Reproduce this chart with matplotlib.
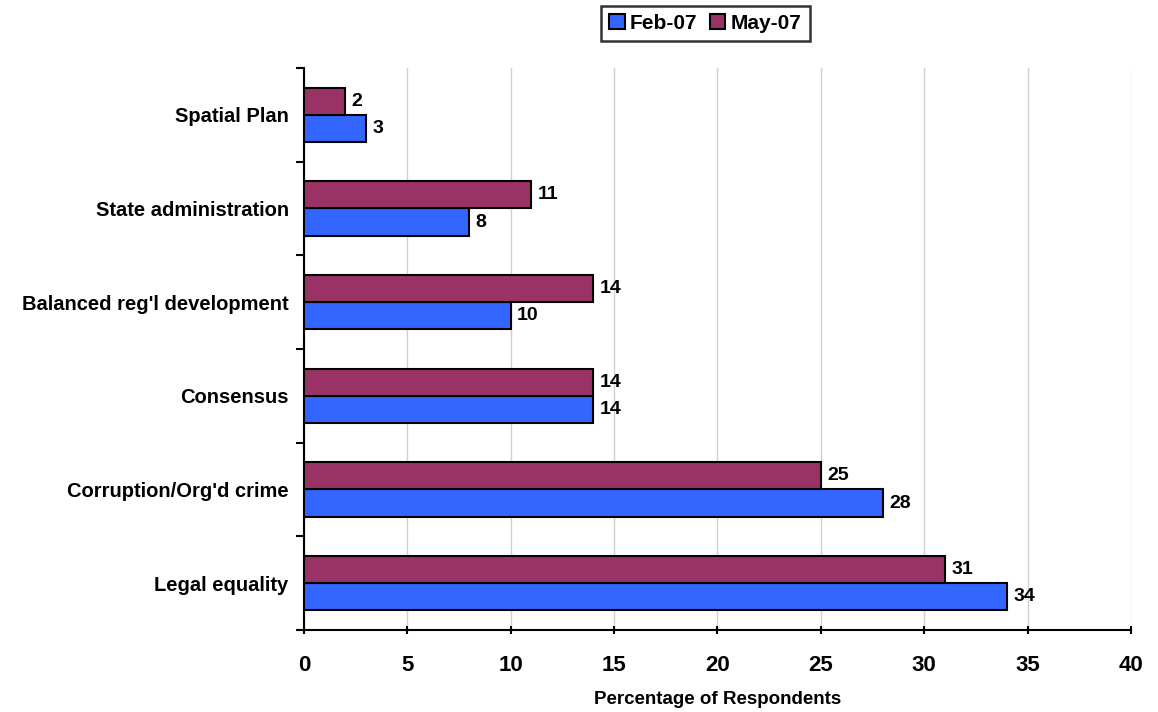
import matplotlib
matplotlib.use("Agg")
import matplotlib.pyplot as plt
import numpy as np

plt.rcParams["font.family"] = ["Liberation Sans", "DejaVu Sans"]
plt.rcParams["font.weight"] = "bold"

categories = ["Legal equality", "Corruption/Org'd crime", "Consensus",
              "Balanced reg'l development", "State administration", "Spatial Plan"]
feb07 = [34, 28, 14, 10, 8, 3]
may07 = [31, 25, 14, 14, 11, 2]
xticks = [0, 5, 10, 15, 20, 25, 30, 35, 40]

FEB_COLOR = "#3366FF"
MAY_COLOR = "#993366"

fig = plt.figure(figsize=(11.58, 7.12), dpi=100)
ax = fig.add_axes([0.2625, 0.1152, 0.9767 - 0.2625, 0.9045 - 0.1152])

y = np.arange(len(categories))
h = 0.29
b1 = ax.barh(y - h / 2, feb07, height=h, color=FEB_COLOR, edgecolor="black",
             linewidth=1.5, label="Feb-07", zorder=3)
b2 = ax.barh(y + h / 2, may07, height=h, color=MAY_COLOR, edgecolor="black",
             linewidth=1.5, label="May-07", zorder=3)

for bars, vals in ((b1, feb07), (b2, may07)):
    for bar, v in zip(bars, vals):
        ax.text(bar.get_width() + 0.3, bar.get_y() + bar.get_height() / 2, f"{v}",
                va="center", ha="left", fontsize=14, fontweight="bold")

ax.set_xlim(0, 40)
ax.set_ylim(-0.5, len(categories) - 0.5)
ax.set_xticks(xticks)
ax.set_xticklabels([str(t) for t in xticks], fontsize=16, fontweight="bold")
ax.set_yticks(y)
ax.set_yticklabels(categories, fontsize=14.5, fontweight="bold")
ax.set_yticks(np.arange(-0.5, len(categories)), minor=True)
ax.tick_params(axis="y", which="major", length=0, pad=11)
ax.tick_params(axis="y", which="minor", length=6, width=1.5, direction="out")
ax.tick_params(axis="x", which="major", length=6, width=1.5, direction="inout", pad=15)

ax.xaxis.grid(True, color="#d0d0d0", linewidth=1.0, zorder=0)
ax.set_axisbelow(True)
for side in ("top", "right"):
    ax.spines[side].set_visible(False)
for side in ("left", "bottom"):
    ax.spines[side].set_linewidth(1.5)

ax.set_xlabel("Percentage of Respondents", fontsize=13.5, fontweight="bold", labelpad=11)

leg = fig.legend(handles=[b1, b2], loc="upper center", bbox_to_anchor=(0.609, 0.992),
                 ncol=2, frameon=True, fancybox=False, edgecolor="black",
                 prop={"size": 15, "weight": "bold"}, handlelength=0.75, handleheight=0.75,
                 handletextpad=0.25, columnspacing=0.6, borderpad=0.4, borderaxespad=0)
leg.get_frame().set_linewidth(1.8)

fig.savefig("out.png", dpi=100)
